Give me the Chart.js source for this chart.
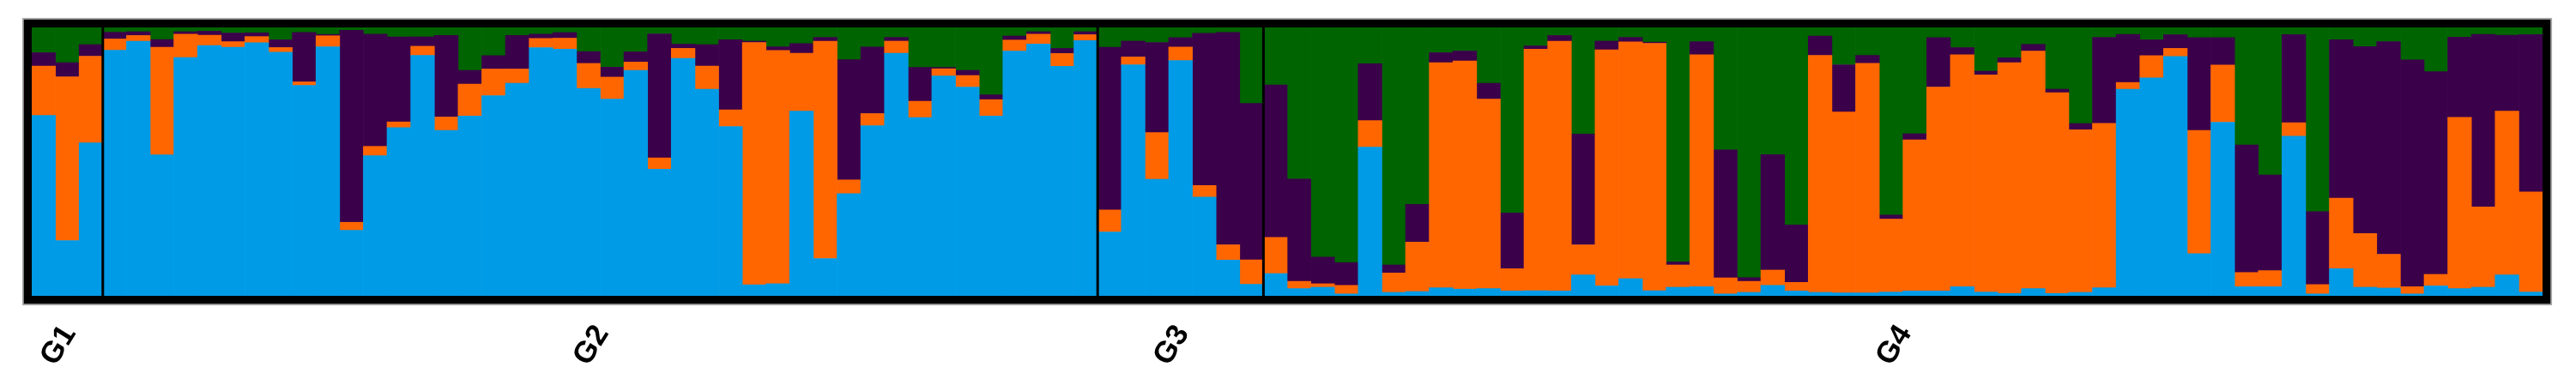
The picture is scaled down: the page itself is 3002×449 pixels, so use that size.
<!DOCTYPE html>
<html>
<head>
<meta charset="utf-8">
<script src="https://cdn.jsdelivr.net/npm/chart.js@4/dist/chart.umd.min.js"></script>
<style>
  html, body { margin: 0; padding: 0; background: #ffffff; }
  #wrap { width: 3002px; height: 449px; position: relative; }
</style>
</head>
<body>
<div id="wrap"><canvas id="c" width="3002" height="449"></canvas></div>
<script>
// Group (population) names and number of individuals in each
const groupNames = ['G1', 'G2', 'G3', 'G4'];
const groupSizes = [3, 42, 7, 54];

// Membership proportions (%) per individual, cluster 1 (blue, bottom)
const blue = [
  67.2, 20.6, 57.0,
  91.5, 94.9, 52.5, 88.8, 93.3, 92.6, 94.3, 90.8, 78.4, 92.8, 24.4, 52.2, 62.7, 89.6, 61.6, 67.0, 74.6, 79.2, 92.5, 91.9, 77.3, 73.3, 84.0, 47.2, 88.5, 77.0, 63.1, 4.1, 4.5, 68.8, 13.9, 38.1, 63.4, 90.4, 66.4, 81.9, 77.8, 67.0, 91.2, 93.8, 85.5, 95.1,
  23.8, 86.1, 43.4, 87.7, 36.8, 13.3, 4.3,
  8.3, 2.7, 3.2, 0.7, 55.4, 1.3, 1.6, 3.0, 2.5, 2.7, 1.8, 1.9, 1.8, 7.8, 3.7, 6.4, 1.9, 3.2, 3.4, 0.7, 1.3, 3.9, 1.8, 1.3, 1.1, 1.1, 1.4, 1.8, 1.8, 3.4, 1.4, 0.9, 2.7, 0.9, 1.3, 3.0, 77.0, 81.2, 89.2, 15.7, 64.7, 3.4, 3.4, 59.5, 0.7, 10.1, 3.2, 2.9, 0.7, 3.7, 2.7, 3.2, 7.8, 1.4
];
// cluster 2 (orange)
const orange = [
  18.4, 61.0, 32.3,
  4.2, 2.1, 40.1, 8.7, 3.8, 2.1, 2.3, 1.7, 1.3, 4.1, 3.0, 3.5, 2.1, 3.4, 5.0, 11.9, 9.9, 5.3, 3.4, 4.1, 9.3, 8.2, 3.1, 4.2, 3.7, 8.6, 6.2, 90.3, 86.9, 21.6, 81.0, 5.1, 4.5, 4.5, 6.1, 2.7, 4.3, 6.1, 4.1, 3.7, 4.8, 2.2,
  8.2, 2.9, 17.4, 5.0, 4.3, 5.7, 9.1,
  13.5, 2.7, 1.3, 3.2, 9.9, 7.2, 18.4, 83.9, 85.0, 70.6, 8.3, 90.0, 93.1, 11.2, 88.0, 88.2, 92.2, 8.3, 86.4, 6.0, 4.1, 5.7, 3.2, 88.3, 67.4, 85.5, 27.2, 56.3, 76.0, 86.4, 80.9, 86.0, 88.5, 74.8, 60.6, 61.3, 2.5, 8.3, 3.0, 45.9, 21.3, 5.3, 6.0, 5.0, 3.5, 26.3, 20.0, 12.6, 2.7, 4.3, 63.8, 29.9, 61.0, 37.3
];
// cluster 3 (purple)
const purple = [
  5.0, 5.3, 4.3,
  2.5, 1.4, 2.9, 0.9, 1.5, 3.2, 1.4, 2.9, 18.4, 0.5, 71.5, 41.8, 31.7, 3.5, 30.4, 5.1, 5.0, 12.5, 1.6, 2.1, 4.4, 3.7, 3.8, 46.2, 1.6, 8.0, 26.1, 0.5, 1.4, 3.6, 1.4, 44.8, 24.8, 1.4, 12.6, 0.5, 1.9, 1.8, 1.5, 0.9, 1.9, 1.1,
  60.6, 5.9, 33.6, 3.5, 56.7, 79.1, 58.3,
  56.8, 38.1, 9.9, 8.5, 21.2, 3.0, 14.1, 3.7, 3.7, 5.9, 20.8, 1.2, 2.1, 41.3, 3.2, 1.7, 0.4, 1.1, 4.9, 47.7, 1.4, 43.0, 21.4, 7.2, 17.6, 3.0, 1.5, 2.3, 18.4, 2.7, 1.4, 1.8, 2.5, 1.3, 2.3, 32.0, 17.9, 5.9, 5.1, 34.6, 10.2, 47.5, 35.6, 32.8, 27.2, 59.0, 69.7, 79.2, 84.5, 75.5, 29.9, 64.3, 28.3, 58.6
];
// cluster 4 (green, top)
const green = [
  9.4, 13.1, 6.4,
  1.8, 1.6, 4.5, 1.6, 1.4, 2.1, 2.0, 4.6, 1.9, 2.6, 1.1, 2.5, 3.5, 3.5, 3.0, 16.0, 10.5, 3.0, 2.5, 1.9, 9.0, 14.8, 9.1, 2.4, 6.2, 6.4, 4.6, 5.1, 7.2, 6.0, 3.7, 12.0, 7.3, 3.7, 14.9, 14.9, 16.0, 25.1, 3.2, 1.6, 7.8, 1.6,
  7.4, 5.1, 5.6, 3.8, 2.2, 1.9, 28.3,
  21.4, 56.5, 85.6, 87.6, 13.5, 88.5, 65.9, 9.4, 8.8, 20.8, 69.1, 6.9, 3.0, 39.7, 5.1, 3.7, 5.5, 87.4, 5.3, 45.6, 93.2, 47.4, 73.6, 3.2, 13.9, 10.4, 69.9, 39.6, 3.8, 7.5, 16.3, 11.3, 6.3, 23.0, 35.8, 3.7, 2.6, 4.6, 2.7, 3.8, 3.8, 43.8, 55.0, 2.7, 68.6, 4.6, 7.1, 5.3, 12.1, 16.5, 3.6, 2.6, 2.9, 2.7
];

// Individual labels built from the group table
const categories = [];
groupNames.forEach((g, gi) => {
  for (let i = 0; i < groupSizes[gi]; i++) categories.push(g + '-' + (i + 1));
});

const structurePlugin = {
  id: 'structurePlugin',
  afterDraw(chart) {
    const ctx = chart.ctx;
    const ca = chart.chartArea;
    const xs = chart.scales.x;
    ctx.save();
    let start = 0;
    const bounds = [];
    groupSizes.forEach((n) => {
      bounds.push([start, start + n - 1]);
      start += n;
    });
    // group separators
    ctx.strokeStyle = '#000';
    ctx.lineWidth = 3;
    for (let gi = 0; gi < bounds.length - 1; gi++) {
      const a = xs.getPixelForValue(bounds[gi][1]);
      const b = xs.getPixelForValue(bounds[gi + 1][0]);
      const x = (a + b) / 2;
      ctx.beginPath();
      ctx.moveTo(x, ca.top);
      ctx.lineTo(x, ca.bottom);
      ctx.stroke();
    }
    // thick frame
    const fw = 9.6;
    ctx.lineWidth = fw;
    ctx.strokeStyle = '#000';
    ctx.strokeRect(ca.left - fw / 2, ca.top - fw / 2, ca.right - ca.left + fw, ca.bottom - ca.top + fw);
    ctx.lineWidth = 1.5;
    ctx.strokeStyle = '#a8a8a8';
    ctx.strokeRect(ca.left - fw - 0.75, ca.top - fw - 0.75, ca.right - ca.left + 2 * fw + 1.5, ca.bottom - ca.top + 2 * fw + 1.5);
    // group labels
    ctx.fillStyle = '#000';
    ctx.font = 'bold 35px "Liberation Sans", Arial, sans-serif';
    ctx.textAlign = 'center';
    ctx.textBaseline = 'middle';
    bounds.forEach((bd, gi) => {
      const cx = (xs.getPixelForValue(bd[0]) + xs.getPixelForValue(bd[1])) / 2;
      ctx.save();
      ctx.translate(cx - 10, ca.bottom + 58);
      ctx.rotate(-58 * Math.PI / 180);
      ctx.fillText(groupNames[gi], 0, 0);
      ctx.restore();
    });
    ctx.restore();
  }
};

const common = { borderWidth: 0, barPercentage: 1.0, categoryPercentage: 1.0 };

new Chart(document.getElementById('c'), {
  type: 'bar',
  data: {
    labels: categories,
    datasets: [
      Object.assign({ label: 'K1', data: blue, backgroundColor: '#009BE6' }, common),
      Object.assign({ label: 'K2', data: orange, backgroundColor: '#FF6600' }, common),
      Object.assign({ label: 'K3', data: purple, backgroundColor: '#3B004A' }, common),
      Object.assign({ label: 'K4', data: green, backgroundColor: '#006400' }, common)
    ]
  },
  options: {
    responsive: false,
    animation: false,
    layout: { padding: { left: 37, top: 32, right: 39, bottom: 104 } },
    plugins: { legend: { display: false }, tooltip: { enabled: false } },
    scales: {
      x: { stacked: true, display: false, offset: true, grid: { display: false } },
      y: { stacked: true, display: false, min: 0, max: 100 }
    }
  },
  plugins: [structurePlugin]
});
</script>
</body>
</html>
